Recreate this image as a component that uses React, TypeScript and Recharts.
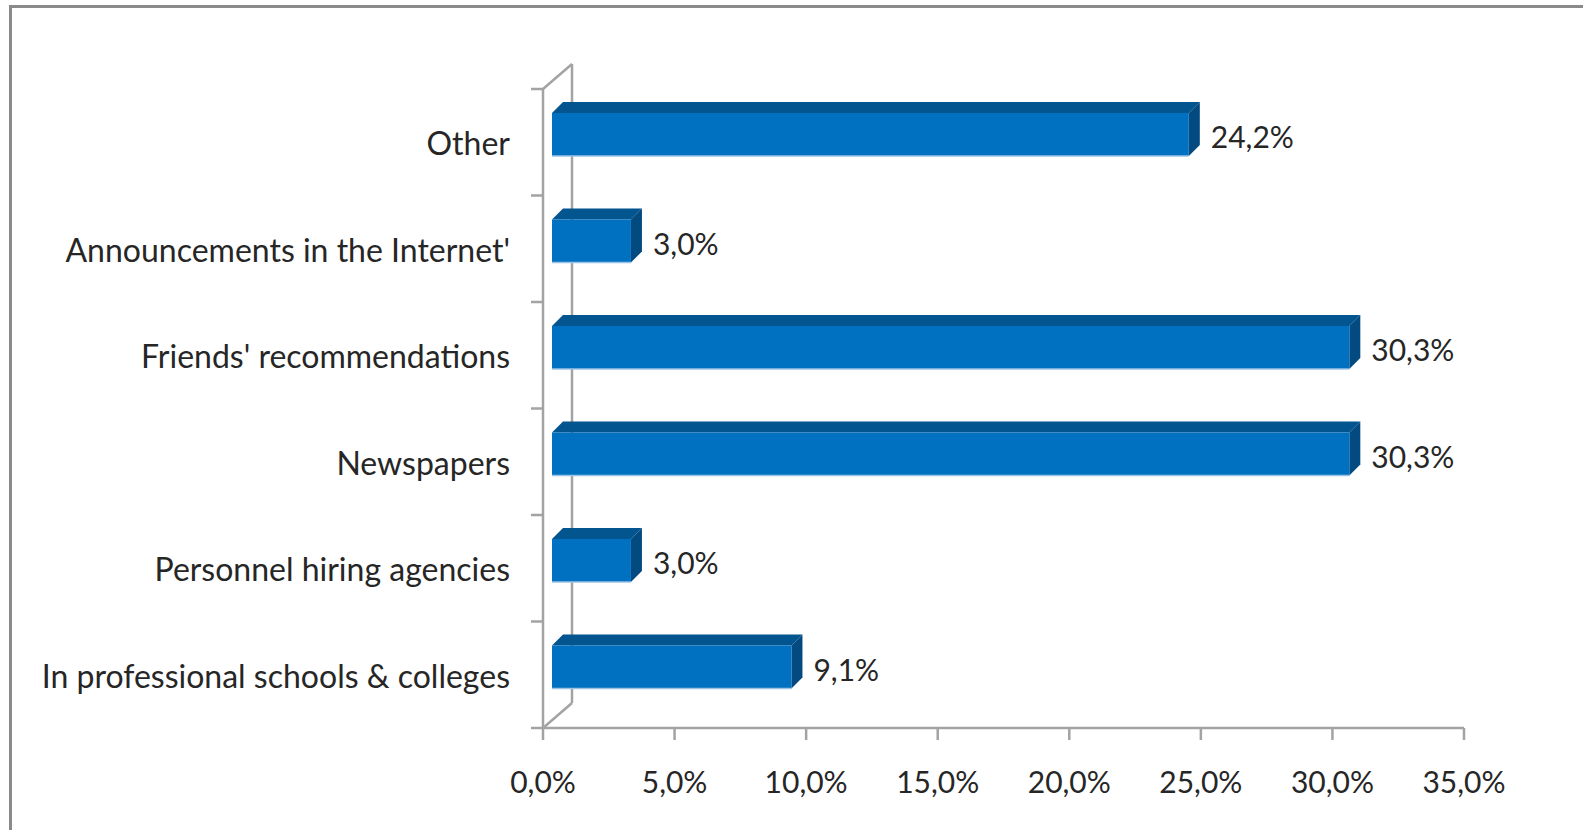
import React from "react"
import { BarChart, Bar, XAxis, YAxis, LabelList } from "recharts"

const categories = [
  "Other",
  "Announcements in the Internet'",
  "Friends' recommendations",
  "Newspapers",
  "Personnel hiring agencies",
  "In professional schools & colleges",
]
const shares = [24.2, 3.0, 30.3, 30.3, 3.0, 9.1]
const xTicks = [0, 5, 10, 15, 20, 25, 30, 35]

const data = categories.map((name, i) => ({ name, value: shares[i] }))

const W = 1583
const H = 830
const PLOT_LEFT = 543
const PLOT_TOP = 89
const PLOT_BOTTOM = 728
const PLOT_RIGHT = 1464
const DEPTH_X = 29
const DEPTH_Y = 25
const BAR_DEPTH = 11
const SHIFT_X = 9
const SHIFT_Y = -8

const AXIS = "#a3a3a3"
const TEXT = "#262626"
const FONT = "Lato, 'Open Sans', sans-serif"

const fmt = (v: number) => `${v.toFixed(1).replace(".", ",")}%`

const Bar3D = (props: any) => {
  const { x, y, width, height } = props
  if (width == null || width <= 0) return null
  const fx = x + SHIFT_X
  const fy = y + SHIFT_Y
  const d = BAR_DEPTH
  return (
    <g>
      <polygon
        points={`${fx},${fy} ${fx + d},${fy - d} ${fx + width + d},${fy - d} ${fx + width},${fy}`}
        fill="#03558f"
      />
      <polygon
        points={`${fx + width},${fy} ${fx + width + d},${fy - d} ${fx + width + d},${fy + height - d} ${fx + width},${fy + height}`}
        fill="#034a80"
      />
      <rect x={fx} y={fy} width={width} height={height} fill="#0070c0" />
      <line x1={fx} y1={fy + height} x2={fx + width} y2={fy + height} stroke="#9cc3e6" strokeWidth={1.5} />
    </g>
  )
}

const CatTick = (props: any) => {
  const { x, y, payload, index } = props
  const band = (PLOT_BOTTOM - PLOT_TOP) / categories.length
  const half = payload && typeof payload.offset === "number" && payload.offset > 0 ? payload.offset : band / 2
  const x1 = x + 21
  const x2 = x + 33
  return (
    <g>
      <line x1={x1} x2={x2} y1={y - half} y2={y - half} stroke={AXIS} strokeWidth={2.5} />
      {index === categories.length - 1 && (
        <line x1={x1} x2={x2} y1={y + half} y2={y + half} stroke={AXIS} strokeWidth={2.5} />
      )}
      <text x={x} y={y + 2} dy="0.35em" textAnchor="end" fill={TEXT} fontSize={32} fontFamily={FONT}>
        {payload.value}
      </text>
    </g>
  )
}

const ValueLabel = (props: any) => {
  const { x, y, width, height, value } = props
  return (
    <text
      x={x + width + 31}
      y={y + height / 2 - 5}
      dy="0.35em"
      fill={TEXT}
      fontSize={30}
      fontFamily={FONT}
    >
      {fmt(value)}
    </text>
  )
}

export default function App() {
  return (
    <div style={{ position: "absolute", left: 0, top: 0, width: W, height: H, background: "#fff", overflow: "hidden" }}>
      <div
        style={{
          position: "absolute",
          left: 9,
          top: 5,
          width: W,
          height: H,
          borderLeft: "3px solid #8a8a8a",
          borderTop: "3px solid #8a8a8a",
        }}
      />
      <svg width={W} height={H} style={{ position: "absolute", left: 0, top: 0 }}>
        <g stroke={AXIS} strokeWidth={2.5} fill="none">
          <line x1={PLOT_LEFT} y1={PLOT_TOP} x2={PLOT_LEFT + DEPTH_X} y2={PLOT_TOP - DEPTH_Y} />
          <line x1={PLOT_LEFT + DEPTH_X} y1={PLOT_TOP - DEPTH_Y} x2={PLOT_LEFT + DEPTH_X} y2={PLOT_BOTTOM - DEPTH_Y} />
          <line x1={PLOT_LEFT} y1={PLOT_BOTTOM} x2={PLOT_LEFT + DEPTH_X} y2={PLOT_BOTTOM - DEPTH_Y} />
        </g>
      </svg>
      <div style={{ position: "absolute", left: 0, top: 0 }}>
        <BarChart
          width={W}
          height={H}
          data={data}
          layout="vertical"
          margin={{ top: PLOT_TOP, right: W - PLOT_RIGHT, bottom: H - PLOT_BOTTOM - 60, left: PLOT_LEFT - 530 }}
        >
          <XAxis
            type="number"
            domain={[0, 35]}
            ticks={xTicks}
            tickFormatter={fmt}
            height={60}
            tickSize={12}
            tickMargin={32}
            axisLine={{ stroke: AXIS, strokeWidth: 2.5 }}
            tickLine={{ stroke: AXIS, strokeWidth: 2.5 }}
            tick={{ fill: TEXT, fontSize: 30, fontFamily: FONT }}
            interval={0}
          />
          <YAxis
            type="category"
            dataKey="name"
            width={530}
            tickSize={10}
            tickMargin={23}
            tickLine={false}
            axisLine={{ stroke: AXIS, strokeWidth: 2.5 }}
            tick={(p: any) => <CatTick {...p} />}
            interval={0}
          />
          <Bar dataKey="value" barSize={43} shape={(p: any) => <Bar3D {...p} />} isAnimationActive={false}>
            <LabelList dataKey="value" content={(p: any) => <ValueLabel {...p} />} />
          </Bar>
        </BarChart>
      </div>
    </div>
  )
}
